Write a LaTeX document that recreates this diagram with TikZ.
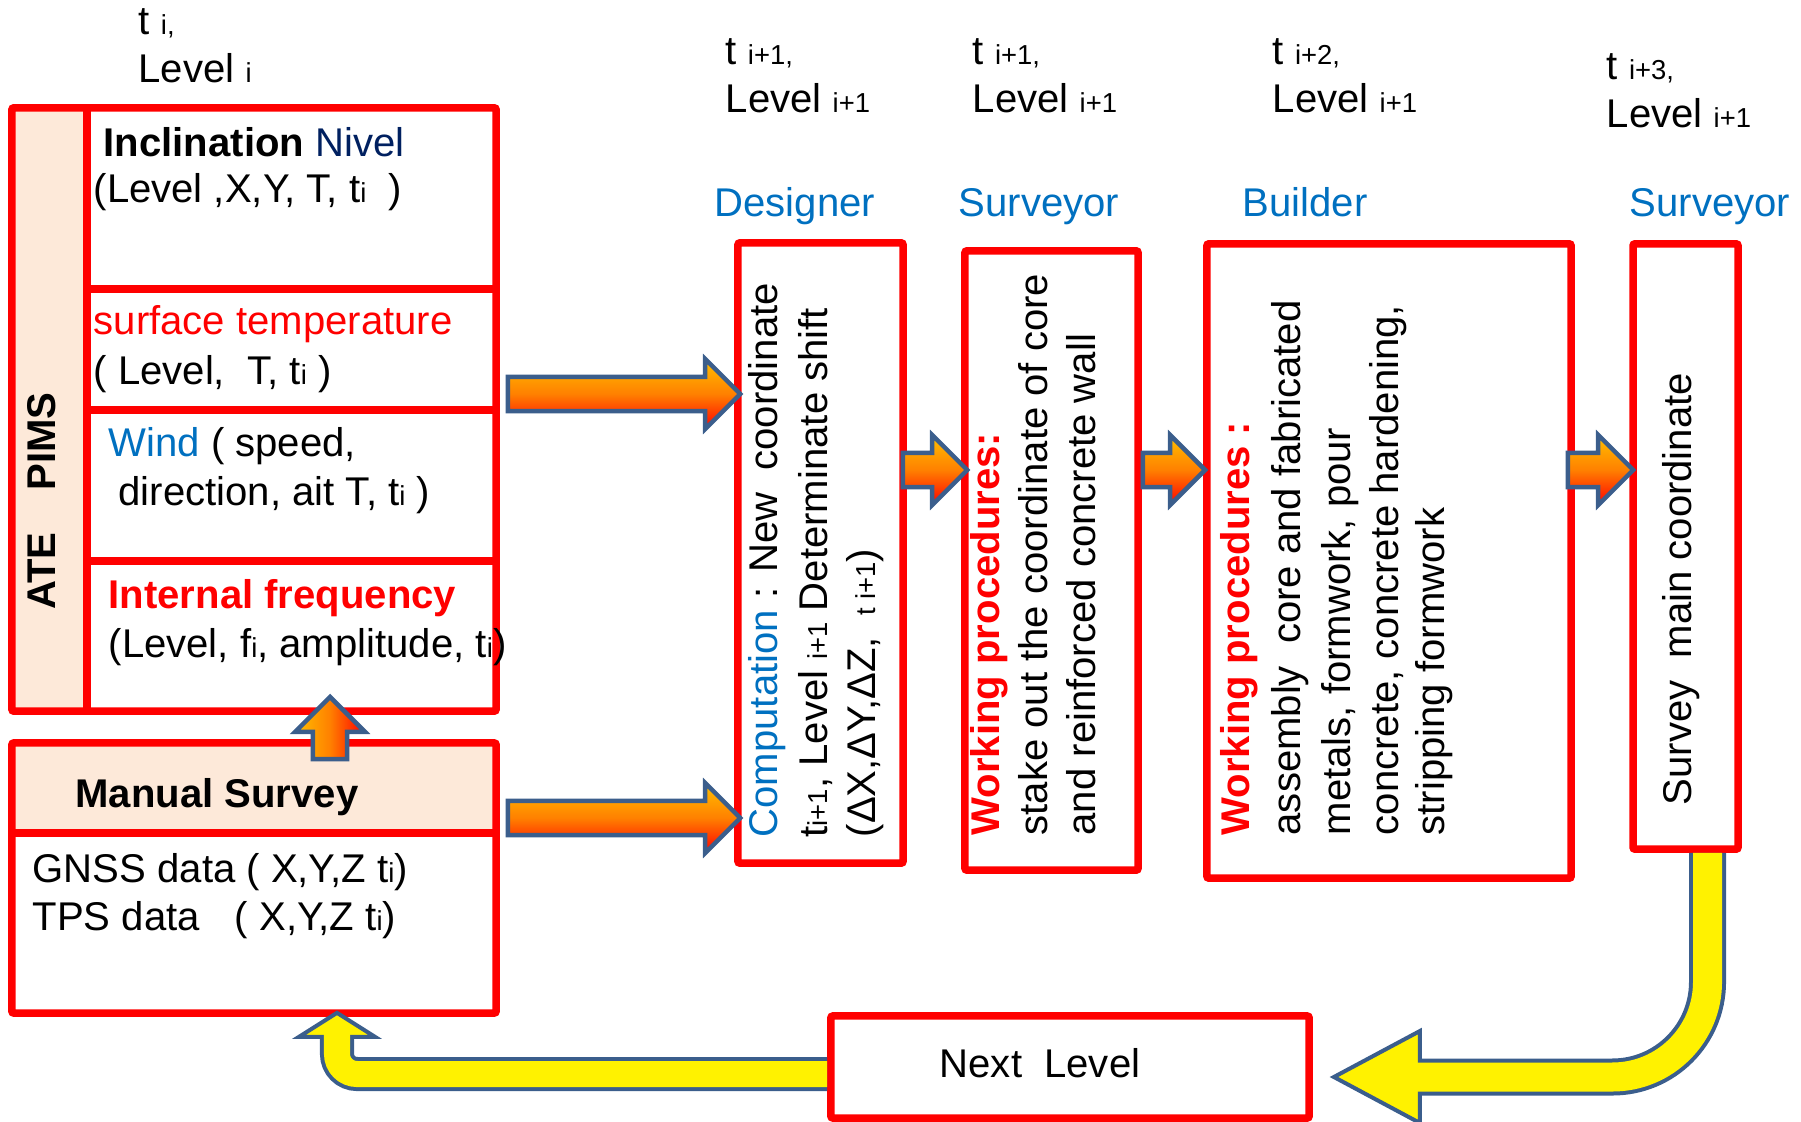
\documentclass[tikz,border=0pt]{standalone}
\usepackage{fontspec}
\setmainfont{Liberation Sans}
\usetikzlibrary{calc}

\definecolor{peach}{HTML}{FDE9D9}
\definecolor{roleblue}{HTML}{0070C0}
\definecolor{navyblue}{HTML}{002060}
\definecolor{edgeblue}{HTML}{3B5E8C}
\definecolor{amber}{HTML}{FFC000}
\definecolor{midorange}{HTML}{FF8000}

% small index text
\newcommand{\sm}[1]{{\fontsize{7.8pt}{9pt}\selectfont #1}}

% block arrow from tail #2 to tip #3
\newcommand{\blockarrow}[3][]{%
  \coordinate (hb) at ($(#3)!0.35cm!(#2)$);
  \path[blockarr,#1] ($(#2)!0.17cm!90:(#3)$) -- ($(hb)!0.17cm!90:(#3)$)
    -- ($(hb)!0.35cm!90:(#3)$) -- (#3) -- ($(hb)!0.35cm!-90:(#3)$)
    -- ($(hb)!0.17cm!-90:(#3)$) -- ($(#2)!0.17cm!-90:(#3)$) -- cycle;}

\tikzset{
  txt/.style={font=\fontsize{11.4pt}{13.7pt}\selectfont, inner sep=0pt, anchor=base west},
  vtxt/.style={txt, rotate=90},
  role/.style={txt, text=roleblue},
  redbox/.style={draw=red, line width=0.075cm, rounded corners=0.02cm, inner sep=0pt},
  redline/.style={draw=red, line width=0.075cm},
  blockarr/.style={draw=edgeblue, line width=0.045cm, line join=miter,
    top color=amber, bottom color=red, middle color=midorange},
  upshade/.style={left color=amber, right color=red, middle color=midorange},
  yelout/.style={draw=edgeblue, line width=#1},
  yelin/.style={draw=yellow, line width=#1},
  yelhead/.style={fill=yellow, draw=edgeblue, line width=0.04cm, line join=miter}
}

\begin{document}
\begin{tikzpicture}[x=0.01cm, y=-0.01cm]
    \useasboundingbox (0,0) rectangle (1801,1122);

    % shaded cells
    \fill[peach] (12,108) rectangle (87,711);
    \fill[peach] (12,743) rectangle (496,833);

    % boxes
    \node[redbox, minimum width=4.84cm, minimum height=6.03cm] (pims) at (254,409.5) {};
    \node[redbox, minimum width=4.84cm, minimum height=2.70cm] (manual) at (254,878) {};
    \node[redbox, minimum width=1.65cm, minimum height=6.20cm] (designer) at (820.5,553) {};
    \node[redbox, minimum width=1.73cm, minimum height=6.19cm] (surveyor) at (1051.5,560.5) {};
    \node[redbox, minimum width=3.64cm, minimum height=6.34cm] (builder) at (1389,561) {};
    \node[redbox, minimum width=1.05cm, minimum height=6.05cm] (survey) at (1685.5,546.5) {};
    \node[redbox, minimum width=4.78cm, minimum height=1.02cm] (next) at (1070,1067) {};

    % cell dividers
    \draw[redline] (87,108) -- (87,711);
    \draw[redline] (87,289) -- (496,289);
    \draw[redline] (87,410) -- (496,410);
    \draw[redline] (87,561) -- (496,561);
    \draw[redline] (12,833) -- (496,833);

    % time and level labels
    \node[txt] (tA) at (138,35) {t \sm{i,}};
    \node[txt] (lvA) at (138,83) {Level \sm{i}};
    \node[txt] (tB) at (725,65) {t \sm{i+1,}};
    \node[txt] (lvB) at (725,113) {Level \sm{i+1}};
    \node[txt] (tC) at (972,65) {t \sm{i+1,}};
    \node[txt] (lvC) at (972,113) {Level \sm{i+1}};
    \node[txt] (tD) at (1272,65) {t \sm{i+2,}};
    \node[txt] (lvD) at (1272,113) {Level \sm{i+1}};
    \node[txt] (tE) at (1606,80) {t \sm{i+3,}};
    \node[txt] (lvE) at (1606,128) {Level \sm{i+1}};

    % roles
    \node[role] (rdesigner) at (714,217) {Designer};
    \node[role] (rsurveyor) at (958,217) {Surveyor};
    \node[role] (rbuilder) at (1242,217) {Builder};
    \node[role] (rsurvey) at (1629,217) {Surveyor};

    % monitoring cells
    \node[vtxt, font=\fontsize{11.4pt}{13.7pt}\selectfont\bfseries, anchor=base] (ate) at (55,501) {ATE\hspace{0.42cm}PIMS};
    \node[txt] (incl1) at (103,157) {\textbf{Inclination} \textcolor{navyblue}{Nivel}};
    \node[txt] (incl2) at (93,203) {(Level ,X,Y, T, t\sm{i}\ \ )};
    \node[txt, text=red] (surf1) at (93,335) {surface temperature};
    \node[txt] (surf2) at (93,385) {( Level,\ \ T, t\sm{i} )};
    \node[txt] (wind1) at (108,457) {\textcolor{roleblue}{Wind} ( speed,};
    \node[txt] (wind2) at (118,505) {direction, ait T, t\sm{i} )};
    \node[txt, text=red, font=\fontsize{11.4pt}{13.7pt}\selectfont\bfseries] (freq1) at (108,608) {Internal frequency};
    \node[txt] (freq2) at (108,657) {(Level, f\sm{i}, amplitude, t\sm{i})};

    % manual survey
    \node[txt, anchor=base, font=\fontsize{11.4pt}{13.7pt}\selectfont\bfseries] (mhead) at (217,807) {Manual Survey};
    \node[txt] (gnss) at (32,882) {GNSS data ( X,Y,Z t\sm{i})};
    \node[txt] (tps) at (32,930) {TPS data\hspace{0.35cm}( X,Y,Z t\sm{i})};

    % designer
    \node[vtxt] (comp1) at (777,838) {\textcolor{roleblue}{Computation} : New\ \ coordinate};
    \node[vtxt] (comp2) at (827,838) {t\sm{i+1}, Level \sm{i+1} Determinate shift};
    \node[vtxt] (comp3) at (875,838) {(ΔX,ΔY,ΔZ,\ \ \sm{t i+1})};

    % surveyor
    \node[vtxt, text=red, font=\fontsize{11.4pt}{13.7pt}\selectfont\bfseries] (stake1) at (999,836) {Working procedures:};
    \node[vtxt] (stake2) at (1047,836) {stake out the coordinate of core};
    \node[vtxt] (stake3) at (1095,836) {and reinforced concrete wall};

    % builder
    \node[vtxt, text=red, font=\fontsize{11.4pt}{13.7pt}\selectfont\bfseries] (work1) at (1249,836) {Working procedures :};
    \node[vtxt] (work2) at (1300,836) {assembly\ \ core and fabricated};
    \node[vtxt] (work3) at (1350,836) {metals, formwork, pour};
    \node[vtxt] (work4) at (1398,836) {concrete, concrete hardening,};
    \node[vtxt] (work5) at (1444,836) {stripping formwork};

    % survey and next level
    \node[vtxt] (main) at (1691,806) {Survey\ \ main coordinate};
    \node[txt, anchor=base] (nlevel) at (1040,1077) {Next\ \ Level};

    % orange arrows
    \coordinate (a1t) at ($(pims.east |- 0,394)+(8,0)$);
    \coordinate (a1h) at ($(designer.west |- 0,394)+(6,0)$);
    \blockarrow{a1t}{a1h}
    \coordinate (a2t) at ($(manual.east |- 0,818)+(8,0)$);
    \coordinate (a2h) at ($(designer.west |- 0,818)+(6,0)$);
    \blockarrow{a2t}{a2h}
    \coordinate (a3t) at ($(designer.east |- 0,470)+(-4,0)$);
    \coordinate (a3h) at ($(surveyor.west |- 0,470)+(6,0)$);
    \blockarrow{a3t}{a3h}
    \coordinate (a4t) at ($(surveyor.east |- 0,470)+(1,0)$);
    \coordinate (a4h) at ($(builder.west |- 0,470)+(2,0)$);
    \blockarrow{a4t}{a4h}
    \coordinate (a5t) at ($(builder.east |- 0,470)+(-7,0)$);
    \coordinate (a5h) at ($(survey.west |- 0,470)+(4,0)$);
    \blockarrow{a5t}{a5h}
    \coordinate (aut) at ($(manual.north -| 330,0)+(0,20)$);
    \coordinate (auh) at ($(pims.south -| 330,0)+(0,-18)$);
    \blockarrow[upshade]{aut}{auh}

    % yellow arrow from survey to next level
    \coordinate (yr0) at ($(survey.south)+(22,0)$);
    \coordinate (yrtip) at ($(next.east |- 0,1077)+(21,0)$);
    \coordinate (yrbase) at ($(yrtip)+(86,0)$);
    \draw[yelout=0.37cm, rounded corners=0.95cm] (yr0) |- (yrbase);
    \path[yelhead] (yrtip) -- ($(yrbase)+(0,-46)$) -- ($(yrbase)+(0,46)$) -- cycle;
    \draw[yelin=0.29cm, rounded corners=0.95cm] (yr0) |- ($(yrbase)+(-4,0)$);

    % yellow arrow from next level to manual survey
    \coordinate (yl0) at (next.west |- 0,1074);
    \coordinate (yltip) at ($(manual.south -| 337,0)+(0,-4)$);
    \coordinate (ylbase) at ($(yltip)+(0,24)$);
    \draw[yelout=0.34cm, rounded corners=0.2cm] (yl0) -| (ylbase);
    \path[yelhead] (yltip) -- ($(ylbase)+(-38,0)$) -- ($(ylbase)+(38,0)$) -- cycle;
    \draw[yelin=0.26cm, rounded corners=0.2cm] (yl0) -| ($(ylbase)+(0,-4)$);
\end{tikzpicture}
\end{document}
